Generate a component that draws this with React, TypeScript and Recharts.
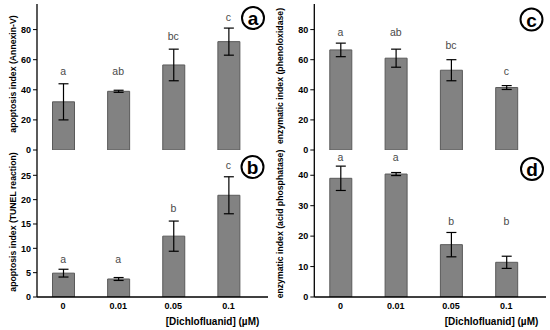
import React from 'react';
import { ComposedChart, Bar, XAxis, YAxis, ErrorBar, Scatter } from 'recharts';

const categories = ['0', '0.01', '0.05', '0.1'];

const annexinMean = [32, 39, 56.5, 72];
const annexinErr = [12, 0.7, 10.5, 9];
const annexinLetters = ['a', 'ab', 'bc', 'c'];
const annexinLetterLevel = [52.3, 52.3, 75.9, 88.5];

const tunelMean = [4.9, 3.7, 12.5, 20.9];
const tunelErr = [0.8, 0.3, 3.1, 3.8];
const tunelLetters = ['a', 'a', 'b', 'c'];
const tunelLetterLevel = [7.8, 7.8, 18.3, 27.1];

const phenolMean = [66.5, 61, 53, 41.5];
const phenolErr = [4.5, 6, 7, 1.3];
const phenolLetters = ['a', 'ab', 'bc', 'c'];
const phenolLetterLevel = [78.5, 78.5, 69.7, 52.3];

const acidMean = [39, 40.4, 17.2, 11.4];
const acidErr = [4, 0.5, 4, 2];
const acidLetters = ['a', 'a', 'b', 'b'];
const acidLetterLevel = [45.9, 45.9, 24.9, 24.9];

const ticksPct = [0, 20, 40, 60, 80];
const ticksTunel = [0, 5, 10, 15, 20, 25];
const ticksAcid = [0, 10, 20, 30, 40];

const build = (mean: number[], err: number[], letters: string[], lv: number[]) =>
  categories.map((c, i) => ({ cat: c, mean: mean[i], err: err[i], letter: letters[i], lv: lv[i] }));

const FONT = '"Liberation Sans", Arial, sans-serif';

const LetterShape = (props: any) => {
  const { cx, cy, payload } = props;
  if (cx == null || cy == null) return null;
  return (
    <text x={cx} y={cy} textAnchor="middle" dominantBaseline="central" fontSize={10.5} fontFamily={FONT} fill="#4a4a4a" stroke="none">
      {payload.letter}
    </text>
  );
};

type PanelProps = {
  left: number;
  top: number;
  height: number;
  marginRight: number;
  marginTop: number;
  marginBottom: number;
  yWidth: number;
  domainMax: number;
  ticks: number[];
  bottom: boolean;
  data: any[];
};

const Panel = ({ left, top, height, marginRight, marginTop, marginBottom, yWidth, domainMax, ticks, bottom, data }: PanelProps) => (
  <div style={{ position: 'absolute', left, top }}>
    <ComposedChart
      width={275}
      height={height}
      data={data}
      margin={{ top: marginTop, right: marginRight, bottom: marginBottom, left: 0 }}
    >
      <XAxis
        xAxisId="b"
        dataKey="cat"
        type="category"
        padding={{ left: -1.5, right: 12 }}
        height={bottom ? 30 : 0}
        tick={bottom ? { fontSize: 9, fontWeight: 'bold', fontFamily: FONT, fill: '#000' } : false}
        tickLine={false}
        tickSize={0}
        tickMargin={6}
        axisLine={{ stroke: '#000', strokeWidth: 1.3 }}
        interval={0}
      />
      <XAxis
        xAxisId="t"
        dataKey="cat"
        orientation="top"
        height={0}
        tick={false}
        tickLine={false}
        axisLine={{ stroke: '#000', strokeWidth: 1.3 }}
      />
      <YAxis
        yAxisId="l"
        width={yWidth}
        domain={[0, domainMax]}
        ticks={ticks}
        allowDataOverflow
        tick={{ fontSize: 9, fontWeight: 'bold', fontFamily: FONT, fill: '#000' }}
        tickSize={4}
        tickMargin={2}
        tickLine={{ stroke: '#000' }}
        axisLine={{ stroke: '#000', strokeWidth: 1.3 }}
        interval={0}
      />
      <YAxis
        yAxisId="r"
        orientation="right"
        width={0}
        domain={[0, domainMax]}
        tick={false}
        tickLine={false}
        axisLine={{ stroke: '#000', strokeWidth: 1.3 }}
      />
      <Bar
        xAxisId="b"
        yAxisId="l"
        dataKey="mean"
        barSize={22}
        fill="#828282"
        stroke="#5a5a5a"
        strokeWidth={1}
        isAnimationActive={false}
      >
        <ErrorBar dataKey="err" width={5} stroke="#000" strokeWidth={1.2} direction="y" isAnimationActive={false} />
      </Bar>
      <Scatter
        xAxisId="b"
        yAxisId="l"
        dataKey="lv"
        shape={LetterShape}
        isAnimationActive={false}
      />
    </ComposedChart>
  </div>
);

const Circ = ({ x, y, t }: { x: number; y: number; t: string }) => (
  <g>
    <circle cx={x} cy={y} r={11} fill="#fff" stroke="#000" strokeWidth={2} />
    <text x={x} y={y + 0.5} textAnchor="middle" dominantBaseline="central" fontSize={19} fontWeight="bold" fontFamily={FONT} fill="#000">
      {t}
    </text>
  </g>
);

const YLab = ({ x, y, t }: { x: number; y: number; t: string }) => (
  <text
    x={x}
    y={y}
    transform={`rotate(-90 ${x} ${y})`}
    textAnchor="middle"
    dominantBaseline="central"
    fontSize={8.7}
    fontWeight="bold"
    fontFamily={FONT}
    fill="#000"
  >
    {t}
  </text>
);

export default function App() {
  return (
    <div style={{ position: 'fixed', left: 0, top: 0, width: 550, height: 330, background: '#fff', overflow: 'hidden' }}>
      <Panel left={0} top={0} height={160} marginRight={7} marginTop={4} marginBottom={10} yWidth={37} domainMax={97} ticks={ticksPct} bottom={false} data={build(annexinMean, annexinErr, annexinLetters, annexinLetterLevel)} />
      <Panel left={0} top={150} height={180} marginRight={7} marginTop={0} marginBottom={3} yWidth={37} domainMax={30.2} ticks={ticksTunel} bottom={true} data={build(tunelMean, tunelErr, tunelLetters, tunelLetterLevel)} />
      <Panel left={275} top={0} height={160} marginRight={4} marginTop={4} marginBottom={10} yWidth={39.3} domainMax={97} ticks={ticksPct} bottom={false} data={build(phenolMean, phenolErr, phenolLetters, phenolLetterLevel)} />
      <Panel left={275} top={150} height={180} marginRight={4} marginTop={0} marginBottom={3} yWidth={39.3} domainMax={48.3} ticks={ticksAcid} bottom={true} data={build(acidMean, acidErr, acidLetters, acidLetterLevel)} />
      <svg width={550} height={330} style={{ position: 'absolute', left: 0, top: 0, pointerEvents: 'none' }}>
        <Circ x={253} y={18} t="a" />
        <Circ x={252.5} y={167} t="b" />
        <Circ x={531.5} y={19.5} t="c" />
        <Circ x={532} y={169} t="d" />
        <YLab x={12.7} y={74} t="apoptosis index (Annexin-V)" />
        <YLab x={12.7} y={222} t="apoptosis index (TUNEL reaction)" />
        <YLab x={280} y={76} t="enzymatic index (phenoloxidase)" />
        <YLab x={280} y={224} t="enzymatic index (acid phosphatase)" />
        <text x={259.3} y={321.7} textAnchor="end" dominantBaseline="central" fontSize={10} fontWeight="bold" fontFamily={FONT} fill="#000">
          [Dichlofluanid] (µM)
        </text>
        <text x={538.3} y={321.7} textAnchor="end" dominantBaseline="central" fontSize={10} fontWeight="bold" fontFamily={FONT} fill="#000">
          [Dichlofluanid] (µM)
        </text>
      </svg>
    </div>
  );
}
